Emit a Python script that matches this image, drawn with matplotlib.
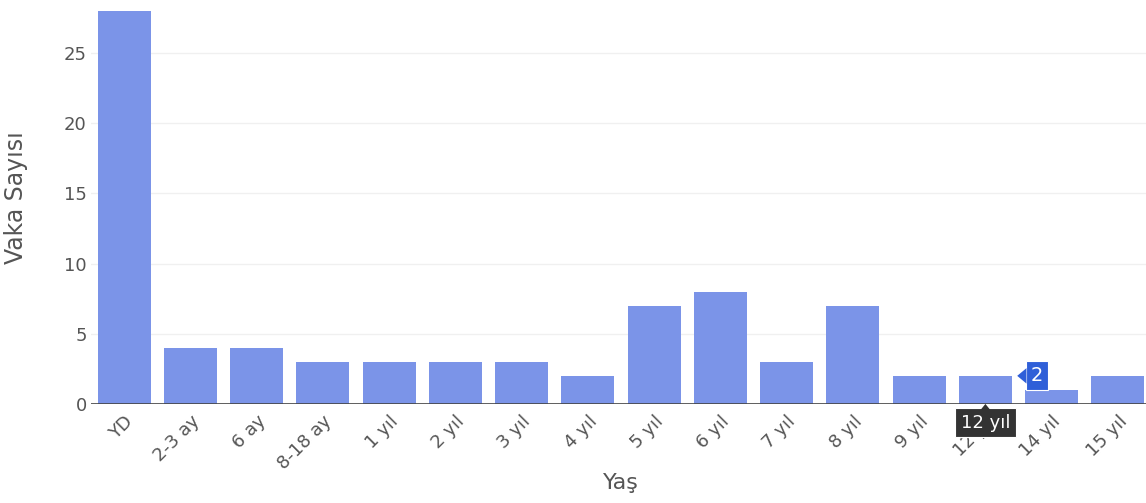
import matplotlib
matplotlib.use('Agg')
import matplotlib.pyplot as plt
from matplotlib.patches import Polygon

# data
age_labels = ['YD', '2-3 ay', '6 ay', '8-18 ay', '1 yıl', '2 yıl', '3 yıl', '4 yıl',
              '5 yıl', '6 yıl', '7 yıl', '8 yıl', '9 yıl', '12 yıl', '14 yıl', '15 yıl']
case_counts = [28, 4, 4, 3, 3, 3, 3, 2, 7, 8, 3, 7, 2, 2, 1, 2]
yticks = [0, 5, 10, 15, 20, 25]

hover_idx = 13  # the bar the mouse is over (12 yıl)

bar_color = '#7b94e8'
text_color = '#555555'

plt.rcParams['font.family'] = ['DejaVu Sans']

fig = plt.figure(figsize=(11.46, 5.03), dpi=100)
ax = fig.add_axes([0.0794, 0.197, 0.925, 0.822])

x = list(range(len(age_labels)))
ax.bar(x, case_counts, width=0.8, color=bar_color, zorder=2)

ax.set_xlim(-0.5, len(age_labels) - 0.5)
ax.set_ylim(0, 29.47)
ax.set_yticks(yticks)
ax.set_yticklabels([str(t) for t in yticks])
ax.grid(axis='y', color='#f0f0f0', linewidth=1, zorder=0)
ax.axhline(0, color='#444444', linewidth=1.2, zorder=3)

ax.set_xticks(x)
ax.set_xticklabels(age_labels, rotation=45, ha='right', rotation_mode='anchor')

for side in ['top', 'right', 'left', 'bottom']:
  ax.spines[side].set_visible(False)
ax.tick_params(axis='x', length=0, pad=6, labelsize=13, labelcolor=text_color)
ax.tick_params(axis='y', length=0, pad=3, labelsize=13, labelcolor=text_color)

ax.set_ylabel('Vaka Sayısı', fontsize=17, color=text_color, labelpad=26)
ax.set_xlabel('Yaş', fontsize=16, color=text_color, labelpad=0)

# hover tooltips: value box to the right, category box under the axis
hx = hover_idx
hv = case_counts[hover_idx]
ax.annotate(str(hv), xy=(hx + 0.48, hv), xycoords='data',
            xytext=(10, 0), textcoords='offset points', ha='left', va='center',
            fontsize=14, color='white', zorder=10, annotation_clip=False,
            bbox=dict(boxstyle='square,pad=0.25', fc='#2f5fd8', ec='white', lw=0.8))
tri = Polygon([[hx + 0.48, hv], [hx + 0.62, hv + 0.55], [hx + 0.62, hv - 0.55]],
              closed=True, fc='#2f5fd8', ec='none', zorder=11, clip_on=False)
ax.add_patch(tri)

ax.annotate(age_labels[hover_idx], xy=(hx, 0), xycoords='data',
            xytext=(0, -7), textcoords='offset points', ha='center', va='top',
            fontsize=13, color='white', zorder=10, annotation_clip=False,
            bbox=dict(boxstyle='square,pad=0.3', fc='#333333', ec='white', lw=0.8))
tri2 = Polygon([[hx, 0], [hx - 0.12, -0.7], [hx + 0.12, -0.7]],
               closed=True, fc='#333333', ec='none', zorder=11, clip_on=False)
ax.add_patch(tri2)

fig.savefig('out.png', dpi=100)
